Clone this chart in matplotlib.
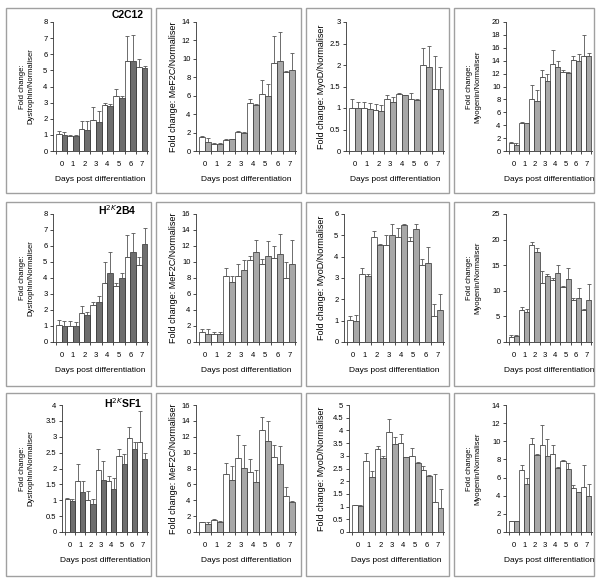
import matplotlib
matplotlib.use("Agg")
import matplotlib.pyplot as plt
from matplotlib.patches import Rectangle
import numpy as np

plt.rcParams['font.family'] = ['Liberation Sans', 'DejaVu Sans']

days = [0, 1, 2, 3, 4, 5, 6, 7]

# C2C12
dys_c2c12_w = [1.05, 0.95, 1.35, 1.9, 2.85, 3.4, 5.6, 5.2]
dys_c2c12_w_err = [0.2, 0.05, 0.5, 0.85, 0.15, 0.45, 1.55, 0.5]
dys_c2c12_g = [1.0, 0.95, 1.3, 1.8, 2.8, 3.3, 5.6, 5.15]
dys_c2c12_g_err = [0.2, 0.05, 0.55, 0.7, 0.1, 0.1, 1.6, 0.15]

mef_c2c12_w = [1.5, 0.8, 1.2, 2.1, 5.2, 6.2, 9.6, 8.6]
mef_c2c12_w_err = [0.1, 0.1, 0.1, 0.1, 0.4, 1.5, 2.9, 0.1]
mef_c2c12_g = [1.0, 0.8, 1.3, 2.0, 5.0, 6.0, 9.8, 8.8]
mef_c2c12_g_err = [0.4, 0.1, 0.05, 0.05, 0.05, 1.3, 3.1, 1.8]

myod_c2c12_w = [1.0, 1.0, 0.95, 1.2, 1.32, 1.22, 2.0, 1.45]
myod_c2c12_w_err = [0.2, 0.15, 0.15, 0.1, 0.03, 0.13, 0.4, 0.75]
myod_c2c12_g = [1.0, 0.98, 0.93, 1.15, 1.3, 1.18, 1.95, 1.45]
myod_c2c12_g_err = [0.15, 0.14, 0.15, 0.1, 0.01, 0.02, 0.5, 0.5]

myog_c2c12_w = [1.2, 4.4, 8.0, 11.4, 13.5, 12.3, 14.1, 14.8]
myog_c2c12_w_err = [0.2, 0.1, 2.3, 1.1, 2.2, 0.2, 0.7, 3.2]
myog_c2c12_g = [1.0, 4.3, 7.8, 10.8, 13.0, 12.1, 14.0, 14.8]
myog_c2c12_g_err = [0.2, 0.1, 1.7, 1.2, 1.0, 0.2, 1.0, 0.4]

# H2K 2B4
dys_2b4_w = [1.05, 1.0, 1.8, 2.3, 3.7, 3.5, 5.3, 4.8]
dys_2b4_w_err = [0.3, 0.3, 0.45, 0.2, 1.3, 0.2, 1.4, 0.5]
dys_2b4_g = [1.0, 1.0, 1.7, 2.5, 4.3, 4.0, 5.6, 6.1]
dys_2b4_g_err = [0.3, 0.25, 0.2, 0.4, 1.3, 0.3, 1.2, 1.0]

mef_2b4_w = [1.2, 1.0, 8.3, 8.3, 10.2, 9.8, 10.5, 8.0]
mef_2b4_w_err = [0.4, 0.2, 1.0, 1.5, 0.6, 0.6, 1.5, 2.0]
mef_2b4_g = [1.0, 1.0, 7.5, 9.0, 11.3, 10.8, 11.0, 9.8]
mef_2b4_g_err = [0.6, 0.2, 0.8, 1.3, 1.5, 1.8, 2.5, 3.0]

myod_2b4_w = [1.05, 3.2, 4.9, 4.55, 4.9, 4.75, 3.6, 1.2]
myod_2b4_w_err = [0.15, 0.25, 0.3, 0.45, 0.45, 0.15, 0.3, 0.6]
myod_2b4_g = [1.0, 3.1, 4.55, 5.0, 5.5, 5.3, 3.7, 1.5]
myod_2b4_g_err = [0.25, 0.1, 0.05, 0.55, 0.05, 0.25, 0.75, 0.75]

myog_2b4_w = [1.0, 6.2, 19.0, 11.5, 12.2, 10.8, 8.3, 6.3]
myog_2b4_w_err = [0.3, 0.6, 0.5, 2.3, 0.3, 0.2, 0.3, 0.2]
myog_2b4_g = [1.2, 5.8, 17.5, 12.8, 13.4, 12.4, 8.6, 8.2]
myog_2b4_g_err = [0.1, 0.6, 0.8, 0.5, 1.6, 2.1, 1.9, 3.1]

# H2K SF1
dys_sf1_w = [1.05, 1.6, 1.0, 1.95, 1.6, 2.4, 2.95, 2.85]
dys_sf1_w_err = [0.02, 0.55, 0.3, 0.65, 0.15, 0.2, 0.35, 0.95]
dys_sf1_g = [0.98, 1.25, 0.87, 1.65, 1.35, 2.15, 2.6, 2.3]
dys_sf1_g_err = [0.07, 0.35, 0.18, 0.6, 0.35, 0.3, 0.25, 0.2]

mef_sf1_w = [1.2, 1.5, 7.3, 9.3, 7.5, 12.8, 9.5, 4.5]
mef_sf1_w_err = [0.05, 0.1, 1.4, 2.9, 1.7, 1.7, 1.5, 1.2]
mef_sf1_g = [1.0, 1.3, 6.5, 8.1, 6.3, 11.5, 8.6, 3.8]
mef_sf1_g_err = [0.2, 0.05, 1.8, 2.9, 1.5, 2.5, 2.2, 0.05]

myod_sf1_w = [1.05, 2.8, 3.25, 3.95, 3.5, 3.0, 2.45, 1.2]
myod_sf1_w_err = [0.02, 0.3, 0.15, 0.5, 0.35, 0.3, 0.15, 1.1]
myod_sf1_g = [1.03, 2.15, 2.9, 3.45, 2.95, 2.7, 2.2, 0.95]
myod_sf1_g_err = [0.02, 0.25, 0.1, 0.3, 0.02, 0.05, 0.05, 0.75]

myog_sf1_w = [1.2, 6.8, 9.7, 9.6, 8.6, 7.8, 4.8, 5.0]
myog_sf1_w_err = [0.05, 0.6, 0.7, 2.2, 1.0, 0.1, 0.4, 2.4]
myog_sf1_g = [1.2, 5.3, 8.5, 8.4, 7.1, 7.0, 4.4, 4.0]
myog_sf1_g_err = [0.05, 0.7, 0.05, 1.9, 0.05, 0.6, 0.05, 1.3]

row_titles = ["C2C12", "H$^{2K}$2B4", "H$^{2K}$SF1"]
ylabels = ["Fold change:\nDystrophin/Normaliser",
           "Fold change: MeF2C/Normaliser",
           "Fold change: MyoD/Normaliser",
           "Fold change:\nMyogenin/Normaliser"]
ylims = [[8, 14, 3, 20], [8, 16, 6, 25], [4, 16, 5, 14]]
ysteps = [[1, 2, 0.5, 2], [1, 2, 1, 5], [0.5, 2, 0.5, 2]]

panels = [
    [(dys_c2c12_w, dys_c2c12_w_err, dys_c2c12_g, dys_c2c12_g_err),
     (mef_c2c12_w, mef_c2c12_w_err, mef_c2c12_g, mef_c2c12_g_err),
     (myod_c2c12_w, myod_c2c12_w_err, myod_c2c12_g, myod_c2c12_g_err),
     (myog_c2c12_w, myog_c2c12_w_err, myog_c2c12_g, myog_c2c12_g_err)],
    [(dys_2b4_w, dys_2b4_w_err, dys_2b4_g, dys_2b4_g_err),
     (mef_2b4_w, mef_2b4_w_err, mef_2b4_g, mef_2b4_g_err),
     (myod_2b4_w, myod_2b4_w_err, myod_2b4_g, myod_2b4_g_err),
     (myog_2b4_w, myog_2b4_w_err, myog_2b4_g, myog_2b4_g_err)],
    [(dys_sf1_w, dys_sf1_w_err, dys_sf1_g, dys_sf1_g_err),
     (mef_sf1_w, mef_sf1_w_err, mef_sf1_g, mef_sf1_g_err),
     (myod_sf1_w, myod_sf1_w_err, myod_sf1_g, myod_sf1_g_err),
     (myog_sf1_w, myog_sf1_w_err, myog_sf1_g, myog_sf1_g_err)],
]

W, H = 596, 578
fig = plt.figure(figsize=(W / 100, H / 100), dpi=100)

# layout in pixels
box_x = [(6, 151), (156, 301), (306, 449), (454, 594)]
box_y = [(8, 193), (202, 386), (393, 576)]
ax_left = [[53, 196, 346, 506], [53, 196, 344, 506], [62, 196, 349, 506]]
ax_right = [148, 296, 444, 592]
ax_top = [22, 214, 405]
ax_zero = [151, 342, 532]
ylab_x = [27, 173, 321, 474]
ylab_size = [5.5, 6.5, 6.5, 5.5]
title_pos = [(128, 15), (117, 210), (123, 403)]
grey_col = ['#6e6e6e', '#a8a8a8', '#a8a8a8', '#a8a8a8']


def fx(px):
    return px / W


def fy(py):
    return 1 - py / H


for r in range(3):
    for c in range(4):
        x0, x1 = box_x[c]
        y0, y1 = box_y[r]
        fig.add_artist(Rectangle((fx(x0), fy(y1)), fx(x1 - x0), (y1 - y0) / H,
                                 transform=fig.transFigure, fill=False,
                                 ec='#a0a0a0', lw=1.0))

        l = ax_left[r][c]
        ax = fig.add_axes([fx(l), fy(ax_zero[r]), fx(ax_right[c] - l),
                           (ax_zero[r] - ax_top[r]) / H])
        w, we, g, ge = panels[r][c]
        xd = np.array(days)
        ax.bar(xd - 0.25, w, width=0.5, color='white', edgecolor='#333333', lw=0.5)
        ax.bar(xd + 0.25, g, width=0.5, color=grey_col[c], edgecolor='#333333', lw=0.5)
        ax.errorbar(xd - 0.25, w, yerr=[np.zeros(8), we], fmt='none',
                    ecolor='#555555', elinewidth=0.6, capsize=1.5, capthick=0.6)
        ax.errorbar(xd + 0.25, g, yerr=[np.zeros(8), ge], fmt='none',
                    ecolor='#555555', elinewidth=0.6, capsize=1.5, capthick=0.6)

        ax.set_xlim(-0.75, 7.55)
        ax.set_ylim(0, ylims[r][c])
        yt = np.arange(0, ylims[r][c] + 1e-6, ysteps[r][c])
        ax.set_yticks(yt)
        ax.set_yticklabels([('%g' % v) for v in yt])
        ax.set_xticks(days)
        ax.set_xticks(np.arange(-0.5, 8, 1), minor=True)
        ax.tick_params(axis='x', which='major', length=0, pad=7, labelsize=5.5)
        ax.tick_params(axis='x', which='minor', length=2, width=0.5, direction='out')
        ax.tick_params(axis='y', length=2, width=0.5, pad=2, labelsize=5.5)
        for s in ['top', 'right']:
            ax.spines[s].set_visible(False)
        for s in ['left', 'bottom']:
            ax.spines[s].set_linewidth(0.6)
            ax.spines[s].set_color('#333333')
        ax.set_xlabel('Days post differentiation', fontsize=6, labelpad=6)

        fig.text(fx(ylab_x[c]), fy((ax_top[r] + ax_zero[r]) / 2), ylabels[c],
                 rotation=90, ha='center', va='center', fontsize=ylab_size[c],
                 linespacing=1.3)

    tx, ty = title_pos[r]
    fig.text(fx(tx), fy(ty), row_titles[r], ha='center', va='center',
             fontsize=7.5, fontweight='bold')

fig.savefig('out.png', dpi=100, facecolor='white')
